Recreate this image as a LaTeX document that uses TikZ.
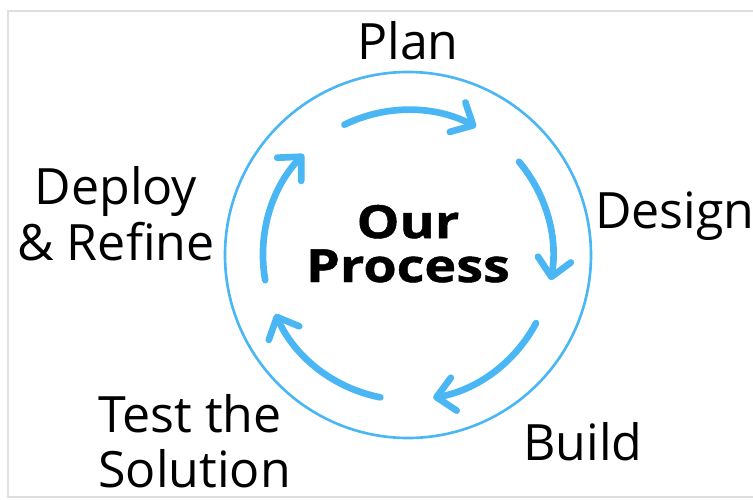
\documentclass[tikz,border=0pt]{standalone}
\usepackage{fontspec}
\setmainfont{Open Sans}
\newfontfamily\heavyfont[FakeStretch=1.18,FakeBold=1]{Open Sans Bold}
\usepackage{tikz}
\usetikzlibrary{arrows.meta}
\definecolor{sky}{RGB}{74,183,244}

\begin{document}
\begin{tikzpicture}
\tikzset{label/.style = {font=\fontsize{28.5}{31.3}\selectfont, inner sep=0pt}}
\tikzset{title/.style = {font=\fontsize{26}{25}\selectfont\heavyfont, inner sep=0pt, align=center}}
\tikzset{ring/.style = {draw=sky, line width=1.5pt}}
\tikzset{step arrow/.style = {sky, line width=3.8pt, line cap=round, -{Straight Barb[length=10pt,width=19pt,round]}}}

\useasboundingbox (-8.16,-4.88) rectangle (6.9,5.1);
\draw[gray!25, line width=1.2pt] (6.9,4.88) -- (-8.0,4.88) -- (-8.0,-4.84) -- (6.9,-4.84);

%vertices
\coordinate (c) at (0,0);
\node[title, anchor=base] (o) at (0,-0.54) {Our\\Process};
\node[label, anchor=base] (p) at (0,3.92) {Plan};
\node[label, anchor=base west] (d) at (3.74,0.54) {Design};
\node[label, anchor=base west] (b) at (2.30,-4.10) {Build};
\node[label, anchor=base west, align=left] (t) at (-6.2,-4.64) {Test the\\Solution};
\node[label, anchor=base, align=center] (r) at (-5.84,-0.1) {Deploy\\\& Refine};

%ring
\draw[ring] (c) circle (3.66);

%edges
\foreach \s/\e in {116/62, 40/-10, -28/-80, -101/-156, -170/-224}
  \draw[step arrow] ([shift=(\s:2.9)]c) arc[start angle=\s, end angle=\e, radius=2.9];

\end{tikzpicture}
\end{document}
